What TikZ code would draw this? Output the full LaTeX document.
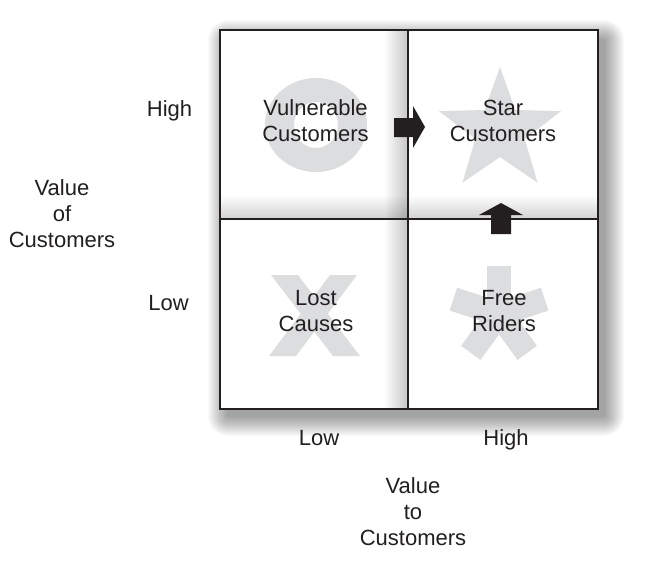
\documentclass[tikz,border=0pt]{standalone}
\usepackage{fontspec}
\setmainfont{Liberation Sans}
\usetikzlibrary{fadings}
\definecolor{ink}{HTML}{231F20}
\definecolor{sym}{HTML}{DCDDDF}
\tikzfading[name=fadeR, left color=transparent!100, right color=transparent!0]
\tikzfading[name=fadeD, top color=transparent!100, bottom color=transparent!0]
\tikzset{
  lbl/.style={font=\fontsize{22}{26}\selectfont, align=center, text=ink, inner sep=0pt},
  cellbox/.style={draw=ink, line width=2pt},
  arrowfill/.style={fill=ink, draw=none},
  symfill/.style={fill=sym, draw=none}
}
\begin{document}
\begin{tikzpicture}[x=1pt,y=-1pt]
\useasboundingbox (0,0) rectangle (655,563);
\fill[white] (0,0) rectangle (655,563);
% soft outer shadow
\foreach \i in {1,...,20}{
  \fill[black, opacity=0.02, rounded corners=\i pt]
    (228-\i,40-\i) rectangle (604+\i,416+\i);
}
\fill[white] (220,30) rectangle (598,409);
% inner shading of cells
\fill[black, opacity=0.22, path fading=fadeR] (384,31) rectangle (407,409);
\fill[black, opacity=0.18, path fading=fadeD] (221,195) rectangle (597,219);
% symbols
\fill[symfill, even odd rule] (316,125) ellipse [x radius=51, y radius=47]
  (316,125) ellipse [x radius=22, y radius=23];
\fill[symfill] (500,67) -- (484.7,110) -- (439.1,111.2) -- (475.3,139) -- (462.4,182.8)
  -- (500,157) -- (537.6,182.8) -- (524.7,139) -- (560.9,111.2) -- (515.3,110) -- cycle;
\fill[symfill] (271,275) -- (298,275) -- (360,356) -- (333,356) -- cycle;
\fill[symfill] (330,275) -- (357,275) -- (296,356) -- (269,356) -- cycle;
\foreach \a in {90,162,234,306,18}{
  \begin{scope}[shift={(499,314)}, rotate=\a]
    \fill[symfill] (0,-12) -- (48,-12) -- (48,12) -- (0,12) -- cycle;
  \end{scope}
}
% grid
\draw[cellbox] (220,30) rectangle (598,409);
\draw[cellbox] (408,30) -- (408,409);
\draw[cellbox] (220,219) -- (598,219);
% arrows
\fill[arrowfill] (394,118) -- (413,118) -- (413,106) -- (425,127) -- (413,148) -- (413,137) -- (394,137) -- cycle;
\fill[arrowfill] (491,234) -- (491,215) -- (479,215) -- (501,203) -- (523,215) -- (511,215) -- (511,234) -- cycle;
% texts
\node[lbl] (vc) at (315.5,121) {Vulnerable\\Customers};
\node[lbl] (sc) at (503,121) {Star\\Customers};
\node[lbl] (lc) at (316,311) {Lost\\Causes};
\node[lbl] (fr) at (504,311) {Free\\Riders};
\node[lbl, anchor=base] (yh) at (169.5,116) {High};
\node[lbl, anchor=base] (yl) at (168.5,310) {Low};
\node[lbl] (ylab) at (62,214) {Value\\of\\Customers};
\node[lbl, anchor=base] (xl) at (319,445) {Low};
\node[lbl, anchor=base] (xh) at (506,445) {High};
\node[lbl] (xlab) at (413,512) {Value\\to\\Customers};
\end{tikzpicture}
\end{document}
